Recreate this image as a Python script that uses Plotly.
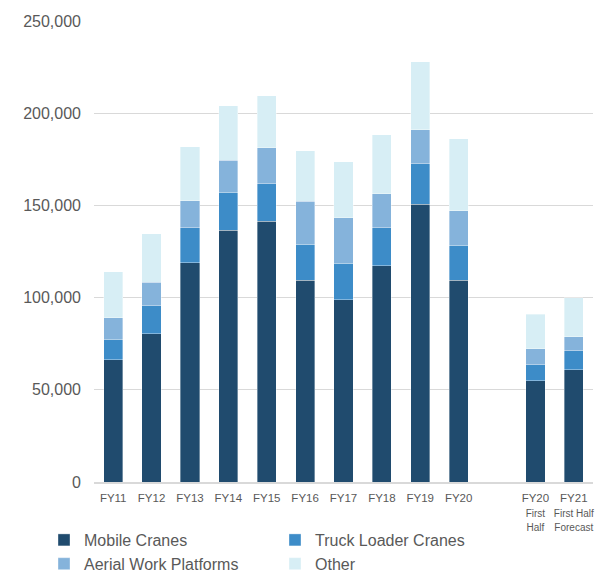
import plotly.graph_objects as go

categories = ["FY11", "FY12", "FY13", "FY14", "FY15", "FY16", "FY17", "FY18", "FY19", "FY20", " ",
              "FY20<br><span style='font-size:10px'>First<br>Half</span>",
              "FY21<br><span style='font-size:10px'>First Half<br>Forecast</span>"]
mobile_cranes = [66300, 80400, 119000, 136400, 141500, 109300, 98800, 117400, 150500, 109300, None, 54900, 61000]
truck_loader = [11200, 15100, 18800, 20600, 20300, 19700, 19900, 20600, 22200, 19200, None, 8700, 10200]
aerial_work = [11700, 12700, 14700, 17500, 19400, 23300, 24600, 18400, 18300, 18700, None, 8600, 7600]
other = [24800, 26400, 29200, 29500, 28200, 27300, 30300, 31800, 36800, 38900, None, 18900, 21200]

series = [
    ("Mobile Cranes", mobile_cranes, "#204B6E"),
    ("Truck Loader Cranes", truck_loader, "#3D8CC8"),
    ("Aerial Work Platforms", aerial_work, "#85B3DB"),
    ("Other", other, "#D7EEF5"),
]

fig = go.Figure()
for name, vals, color in series:
    fig.add_trace(go.Bar(
        x=categories, y=vals, name=name,
        marker=dict(color=color, line=dict(color="rgba(255,255,255,0.6)", width=0.6)),
    ))

font_family = "Liberation Sans, Arial, sans-serif"
fig.update_layout(
    barmode="stack",
    bargap=0.5,
    width=599, height=574,
    margin=dict(l=94, r=6, t=21, b=92, autoexpand=False),
    plot_bgcolor="white", paper_bgcolor="white",
    font=dict(family=font_family, color="#595959"),
    legend=dict(
        orientation="h", x=-50 / 499, xref="paper", y=-41 / 461, yref="paper",
        yanchor="top", xanchor="left",
        entrywidth=186, entrywidthmode="pixels",
        font=dict(size=16, color="#595959"),
        traceorder="normal",
        itemclick=False,
    ),
    showlegend=True,
)
fig.update_xaxes(
    type="category", categoryorder="array", categoryarray=categories,
    showline=True, linecolor="#d9d9d9", linewidth=1.5,
    tickfont=dict(size=11.5, color="#595959"),
    ticks="", showgrid=False, automargin=False,
    ticklabelstandoff=4,
)
fig.update_yaxes(
    range=[0, 250000], tickvals=[0, 50000, 100000, 150000, 200000, 250000],
    tickformat=",d",
    showgrid=True, gridcolor="#d9d9d9", gridwidth=1,
    zeroline=False, automargin=False,
    tickfont=dict(size=16, color="#595959"),
    ticklabelstandoff=12,
)

fig.write_html("out.html")
